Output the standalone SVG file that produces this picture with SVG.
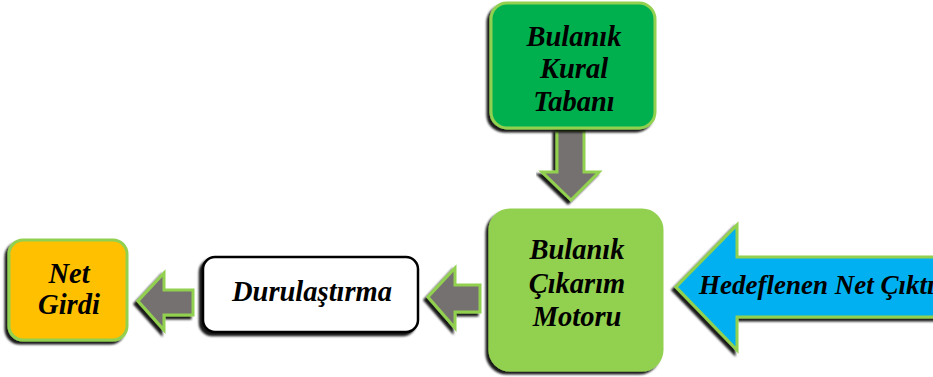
<svg xmlns="http://www.w3.org/2000/svg" width="933" height="377" viewBox="0 0 933 377">
<defs>
<filter id="sh" x="-10%" y="-10%" width="120%" height="130%">
<feDropShadow dx="-3" dy="3" stdDeviation="1" flood-color="#000" flood-opacity="0.9"/>
</filter>
</defs>
<style>
.box{stroke:#92D050;stroke-width:3;filter:url(#sh)}
.arr{fill:#767171;stroke:#92D050;stroke-width:3;stroke-linejoin:miter;filter:url(#sh)}
</style>
<rect width="933" height="377" fill="#fff"/>
<g id="connectors">
<polygon class="arr" points="557,130 584,130 584,172 599,172 571,200 542,172 557,172"/>
<polygon class="arr" points="480,285 455,285 455,268 428,297 455,328 455,312 480,312"/>
<polygon class="arr" points="193,290 164,290 164,273 138,301 164,330 164,315 193,315"/>
</g>
<g font-family="Liberation Serif, Times New Roman, serif" font-weight="bold" font-style="italic" font-size="28.5" text-anchor="middle" fill="#000">
<g id="kural">
<rect class="box" x="491" y="3" width="164" height="125" rx="16" fill="#00B050"/>
<text x="574" y="46">Bulanık</text>
<text x="574" y="78">Kural</text>
<text x="574" y="111">Tabanı</text>
</g>
<g id="motor">
<rect class="box" x="490" y="210" width="172" height="160" rx="20" fill="#92D050"/>
<text x="577" y="259">Bulanık</text>
<text x="577" y="293">Çıkarım</text>
<text x="577" y="326">Motoru</text>
</g>
<g id="hedef">
<polygon class="arr" style="fill:#00B0F0" points="940,257 737,257 737,225 676,287 737,350 737,317 940,317"/>
<text x="699" y="294" text-anchor="start" font-size="27">Hedeflenen Net Çıktı</text>
</g>
<g id="durulastirma">
<rect x="203" y="257" width="215" height="75" rx="12" fill="#fff" stroke="#000" stroke-width="2.5" style="filter:url(#sh)"/>
<text x="312" y="301">Durulaştırma</text>
</g>
<g id="netgirdi">
<rect class="box" x="9" y="240" width="118" height="100" rx="14" fill="#FFC000"/>
<text x="69" y="283">Net</text>
<text x="69" y="314">Girdi</text>
</g>
</g>
</svg>
